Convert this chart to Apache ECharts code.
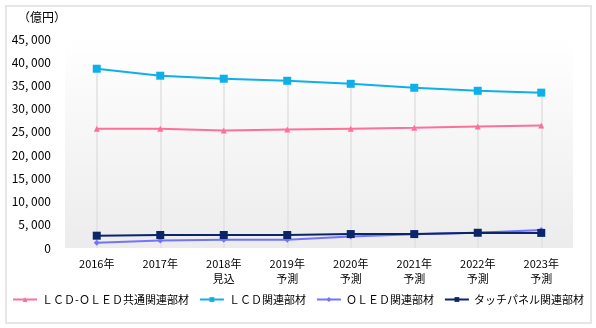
<!DOCTYPE html>
<html><head><meta charset="utf-8">
<script src="https://cdn.jsdelivr.net/npm/echarts@6/dist/echarts.min.js"></script>
<style>html,body{margin:0;padding:0;background:#fff}#c{width:596px;height:328px}
#frame{position:absolute;left:5px;top:5px;width:583px;height:315px;border:2px solid #e6e6e6;pointer-events:none}</style>
</head><body><div id="c"></div><div id="frame"></div>
<script>
var categories = ['2016年','2017年','2018年\n見込','2019年\n予測','2020年\n予測','2021年\n予測','2022年\n予測','2023年\n予測'];
var seriesNames = ['ＬＣＤ-ＯＬＥＤ共通関連部材','ＬＣＤ関連部材','ＯＬＥＤ関連部材','タッチパネル関連部材'];
var commonVals = [25700, 25700, 25300, 25500, 25700, 25900, 26150, 26350];
var lcdVals = [38600, 37100, 36450, 36000, 35350, 34500, 33850, 33450];
var oledVals = [1150, 1600, 1800, 1800, 2450, 2950, 3300, 3850];
var touchVals = [2650, 2800, 2800, 2800, 3000, 3000, 3280, 3250];
var yTicks = {min: 0, max: 45000, interval: 5000};
var unitLabel = '（億円）';

var font = '"Noto Sans CJK JP", sans-serif';
var chart = echarts.init(document.getElementById('c'), null, {renderer: 'canvas'});
function mk(name, data, color, symbol, size, z) {
  return {name: name, type: 'line', data: data, symbol: symbol, symbolSize: size,
    itemStyle: {color: color}, lineStyle: {color: color, width: 2}, z: z, animation: false};
}
// drop lines from the highest point of each category down to the axis
var dropLines = categories.map(function (c, i) {
  var hi = Math.max(commonVals[i], lcdVals[i], oledVals[i], touchVals[i]);
  return [{coord: [i, hi]}, {coord: [i, 0]}];
});
var lcdSeries = mk(seriesNames[1], lcdVals, '#0fb0ea', 'rect', 8, 4);
lcdSeries.markLine = {silent: true, symbol: 'none', label: {show: false}, z: 1,
  lineStyle: {color: '#e0e0e0', type: 'solid', width: 1.5, opacity: 1}, data: dropLines};
chart.setOption({
  animation: false,
  textStyle: {fontFamily: font},
  graphic: [{type: 'text', left: 18, top: 11, style: {text: unitLabel, font: '12px ' + font, fill: '#000'}}],
  grid: {left: 65, right: 23, top: 39, bottom: 80, show: true, borderWidth: 0,
    backgroundColor: new echarts.graphic.LinearGradient(0, 0, 0, 1, [{offset: 0, color: '#ffffff'}, {offset: 1, color: '#ececec'}])},
  xAxis: {type: 'category', data: categories, boundaryGap: true,
    axisLine: {show: false}, axisTick: {show: false},
    splitLine: {show: false},
    axisLabel: {color: '#000', fontSize: 11, fontFamily: font, lineHeight: 15, margin: 8, interval: 0}},
  yAxis: {type: 'value', min: yTicks.min, max: yTicks.max, interval: yTicks.interval,
    axisLine: {show: false}, axisTick: {show: false}, splitLine: {show: false},
    axisLabel: {color: '#000', fontSize: 12, fontFamily: font, margin: 14,
      formatter: function (v) { return v === 0 ? '0' : v.toLocaleString('en-US').replace(',', ', '); }}},
  legend: {bottom: 18, left: 'center', itemWidth: 24, itemHeight: 6, itemGap: 10,
    textStyle: {fontSize: 11, fontFamily: font, color: '#000'},
    data: seriesNames},
  series: [
    mk(seriesNames[0], commonVals, '#ff6f9a', 'triangle', 6, 3),
    lcdSeries,
    mk(seriesNames[2], oledVals, '#7373ff', 'diamond', 6, 3),
    mk(seriesNames[3], touchVals, '#0b2568', 'rect', 8, 5)
  ]
});
</script></body></html>
